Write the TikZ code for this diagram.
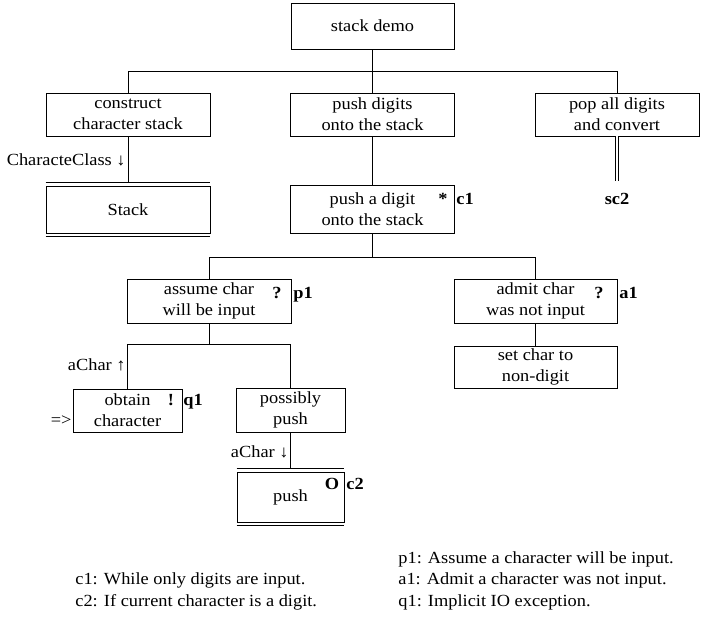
\documentclass[tikz,border=0pt]{standalone}
\usepackage{fontspec}
\setmainfont{Liberation Serif}[FakeStretch=1.08]
\usepackage{tikz}
\newcommand\diafont{\fontsize{17}{21}\selectfont}
\tikzset{
  box/.style = {draw=black, rectangle, align=center, inner sep=0pt, minimum width=164pt, minimum height=44pt},
  sbox/.style = {box, minimum width=109pt},
  symb/.style = {font=\diafont\bfseries, inner sep=0pt, anchor=base},
  tag/.style = {font=\diafont\bfseries, inner sep=0pt, anchor=base west},
  elabel/.style = {inner sep=0pt, anchor=base east},
  note/.style = {inner sep=0pt, anchor=base west},
  dline/.style = {double, double distance=2pt, line width=0.6pt},
}

\begin{document}
\begin{tikzpicture}[x=1pt, y=-1pt, line width=0.8pt, font=\diafont]
\useasboundingbox (0,0) rectangle (715,624);
% boxes
\node [box, minimum width=163pt, minimum height=46pt] (demo) at (372.5,26) {stack demo};
\node [box, minimum height=43pt] (con) at (128,114.5) {construct\\character stack};
\node [box, minimum height=43pt] (push) at (372.5,114.5) {push digits\\onto the stack};
\node [box, minimum height=43pt] (pop) at (617,114.5) {pop all digits\\and convert};
\node [box, minimum height=47pt] (stk) at (128,209.5) {Stack};
\node [box, minimum height=48pt] (dig) at (372.5,209) {push a digit\\onto the stack};
\node [box] (assume) at (209,301) {assume char\\will be input};
\node [box, minimum width=163pt] (admit) at (535.5,301) {admit char\\was not input};
\node [box, minimum width=163pt, minimum height=42pt] (setc) at (535.5,367) {set char to\\non-digit};
\node [sbox, minimum height=43pt] (obtain) at (127.5,410.5) {obtain\\character};
\node [sbox] (pp) at (290.5,410) {possibly\\push};
\node [sbox, minimum width=107pt, minimum height=50pt] (pushb) at (290.5,497) {push};
\node [tag, anchor=base] (sc2) at (617,204) {sc2};

% double lines on top and bottom
\draw ([yshift=3pt]stk.north west) -- ([yshift=3pt]stk.north east);
\draw ([yshift=-3pt]stk.south west) -- ([yshift=-3pt]stk.south east);
\draw ([yshift=3pt]pushb.north west) -- ([yshift=3pt]pushb.north east);
\draw ([yshift=-3pt]pushb.south west) -- ([yshift=-3pt]pushb.south east);

% marks and tags
\node [symb] (m1) at (443,204) {*};
\node [tag] (c1) at (456,204) {c1};
\node [symb] (m2) at (277,298) {?};
\node [tag] (p1) at (293,298) {p1};
\node [symb] (m3) at (599,298) {?};
\node [tag] (a1) at (619,298) {a1};
\node [symb] (m4) at (171,405) {!};
\node [tag] (q1) at (183,405) {q1};
\node [symb] (m5) at (332,489) {O};
\node [tag] (c2) at (346,489) {c2};

% connectors
\draw (demo.south) -- (push.north);
\draw (con.north) -- ++(0,-21) -| (pop.north);
\draw (push.south) -- (dig.north);
\draw (con.south) -- ([yshift=3pt]stk.north);
\draw [dline, shorten >=11pt] (pop.south) -- (sc2.north);
\draw (dig.south) -- ++(0,25);
\draw (assume.north) -- ++(0,-21) -| (admit.north);
\draw (admit.south) -- (setc.north);
\draw (assume.south) -- ++(0,22);
\draw (obtain.north) -- ++(0,-44) -| (pp.north);
\draw (pp.south) -- ([yshift=3pt]pushb.north);

% connector labels
\node [elabel] (l1) at (126,165) {CharacteClass ↓};
\node [elabel] (l2) at (126,370) {aChar ↑};
\node [elabel] (l3) at (289,457) {aChar ↓};
\node [elabel] (l4) at (72,425) {=>};

% notes
\node [note] (n1) at (75,584) {c1: While only digits are input.};
\node [note] (n2) at (75,606) {c2: If current character is a digit.};
\node [note] (n3) at (398,563) {p1: Assume a character will be input.};
\node [note] (n4) at (398,584) {a1: Admit a character was not input.};
\node [note] (n5) at (398,606) {q1: Implicit IO exception.};
\end{tikzpicture}
\end{document}
